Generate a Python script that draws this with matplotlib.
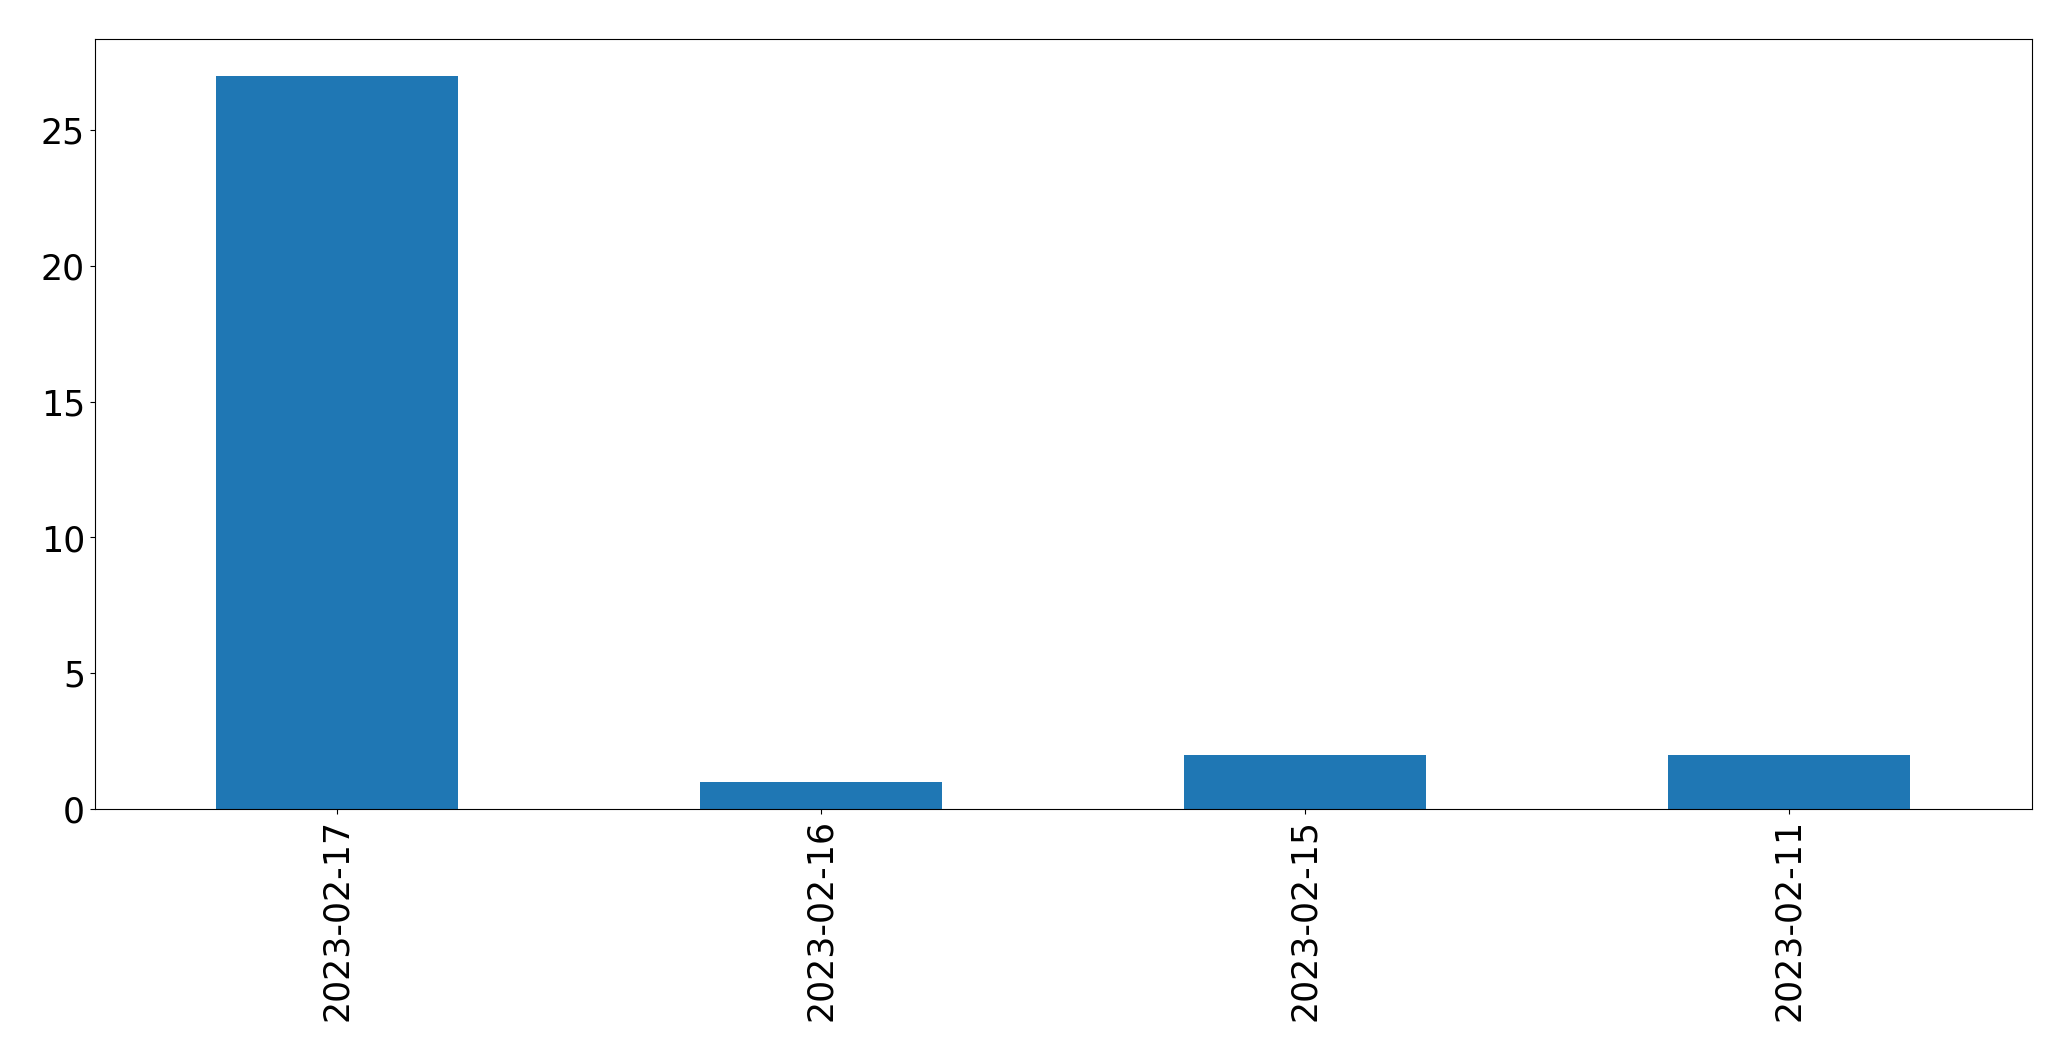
import matplotlib
matplotlib.use("Agg")
import matplotlib.pyplot as plt

dates = ["2023-02-17", "2023-02-16", "2023-02-15", "2023-02-11"]
counts = [27, 1, 2, 2]

fig = plt.figure(figsize=(20.7105, 10.6105), dpi=100)
ax = fig.add_axes([94.7 / 2071, 1 - 809 / 1061, (2031.5 - 94.7) / 2071, (809 - 39.3) / 1061])
x = list(range(len(dates)))
ax.bar(x, counts, width=0.5, color="#1f77b4")
ax.set_xlim(-0.5, len(dates) - 0.5)
ax.set_ylim(0, max(counts) * 1.05)
ax.set_xticks(x)
ax.set_xticklabels(dates, rotation=90)
ax.tick_params(labelsize=25)
fig.savefig("out.png", dpi=100)
